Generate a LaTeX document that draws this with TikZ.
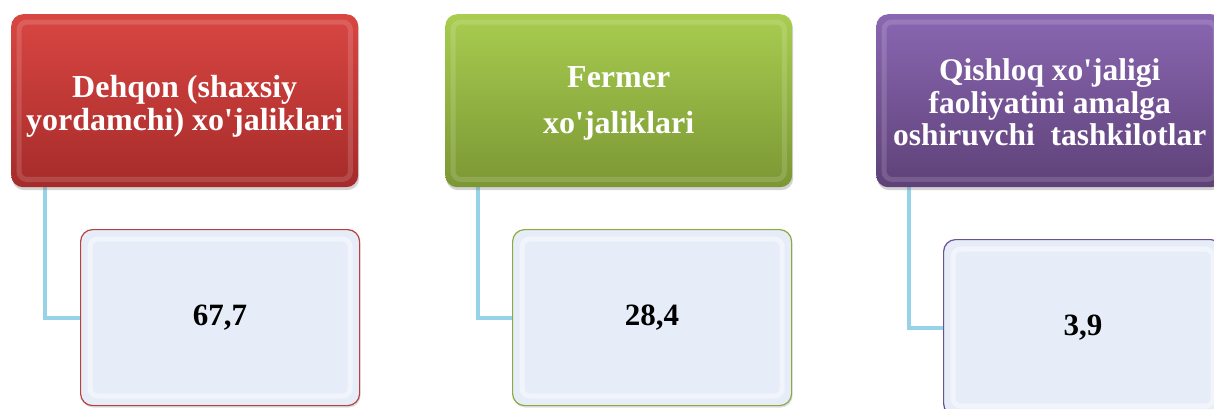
\documentclass[tikz,border=0pt]{standalone}
\usepackage{fontspec}
\newfontfamily\tmsb{Liberation Serif}
\usetikzlibrary{shadows,positioning}
\definecolor{redtop}{HTML}{D94642}
\definecolor{redbot}{HTML}{A52B2A}
\definecolor{redline}{HTML}{B9403C}
\definecolor{greentop}{HTML}{A8CD50}
\definecolor{greenbot}{HTML}{7B9734}
\definecolor{greenline}{HTML}{8CAA3F}
\definecolor{purptop}{HTML}{8A67B2}
\definecolor{purpbot}{HTML}{5E4178}
\definecolor{purpline}{HTML}{6F5090}
\definecolor{lowfill}{HTML}{E6EDF8}
\definecolor{conn}{HTML}{96D3E6}
\tikzset{
  headbox/.style={rounded corners=12pt, minimum width=347pt, minimum height=173pt,
    inner sep=0pt, drop shadow={shadow xshift=1pt, shadow yshift=-3pt, opacity=0.35}},
  headtext/.style={align=center, text=white, inner sep=0pt,
    font=\tmsb\bfseries\fontsize{32}{33}\selectfont},
  valbox/.style={rounded corners=12pt, minimum width=279pt, minimum height=176pt,
    inner sep=0pt, fill=lowfill, line width=1.2pt, font=\tmsb\bfseries\fontsize{31}{33}\selectfont,
    drop shadow={shadow xshift=1pt, shadow yshift=-2pt, opacity=0.25}},
  connline/.style={draw=conn, line width=4pt},
  bevel/.style={draw=white, draw opacity=0.14, line width=5pt, rounded corners=8pt}
}
\begin{document}
\begin{tikzpicture}[x=1pt,y=-1pt]
\useasboundingbox (0,0) rectangle (1214,408);
\coordinate (c1) at (45,187);
\coordinate (c2) at (478,187);
\coordinate (c3) at (909,187);
% value boxes
\node[valbox, draw=redline, anchor=north west] (v1) at (80,229) {67,7};
\node[valbox, draw=greenline, anchor=north west] (v2) at (512,229) {28,4};
\node[valbox, draw=purpline, anchor=north west] (v3) at (943,239) {3,9};
\draw[connline] (c1) |- (v1.west);
\draw[connline] (c2) |- (v2.west);
\draw[connline] (c3) |- (v3.west);
% header boxes
\node[headbox, top color=redtop, bottom color=redbot, anchor=north west] (h1) at (11,14) {};
\node[headbox, top color=greentop, bottom color=greenbot, anchor=north west] (h2) at (445,14) {};
\node[headbox, top color=purptop, bottom color=purpbot, anchor=north west] (h3) at (876,14) {};
% bevel highlights
\foreach \n in {h1,h2,h3}{
  \draw[bevel] ([shift={(8pt,-8pt)}]\n.north west) rectangle ([shift={(-8pt,8pt)}]\n.south east);
}
\foreach \n in {v1,v2,v3}{
  \draw[bevel, draw opacity=0.45] ([shift={(10pt,-10pt)}]\n.north west) rectangle ([shift={(-10pt,10pt)}]\n.south east);
}
% header texts
\node[headtext] (t1) at ([yshift=-6pt]h1.center) {Dehqon (shaxsiy\\yordamchi) xo'jaliklari};
\node[headtext, font=\tmsb\bfseries\fontsize{32}{46}\selectfont] (t2) at ([yshift=-3pt]h2.center)
  {Fermer\\xo'jaliklari};
\node[headtext, font=\tmsb\bfseries\fontsize{31.5}{32.5}\selectfont] (t3) at ([yshift=-2pt]h3.center)
  {Qishloq xo'jaligi\\faoliyatini amalga\\oshiruvchi\ \ tashkilotlar};
\end{tikzpicture}
\end{document}
